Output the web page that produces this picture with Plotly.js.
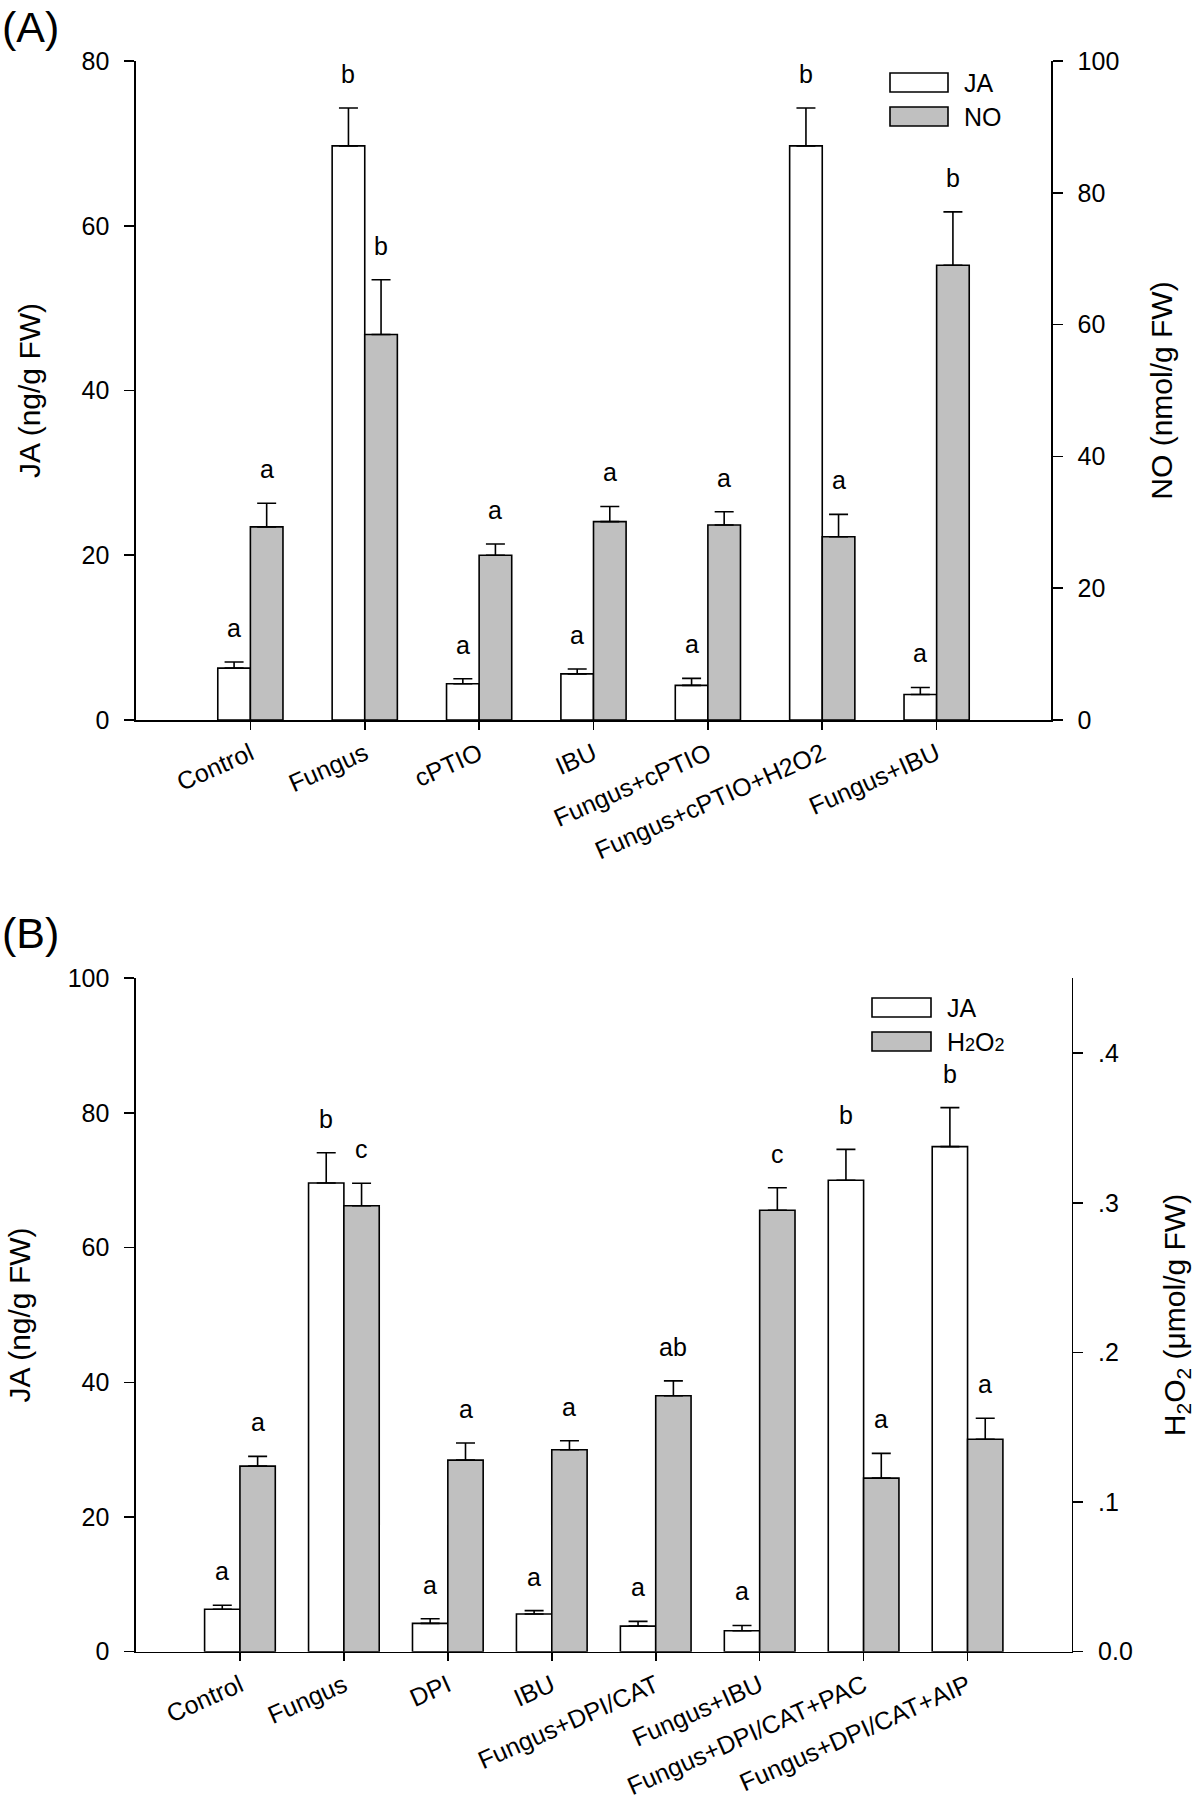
<!DOCTYPE html>
<html>
<head>
<meta charset="utf-8">
<script src="https://cdn.plot.ly/plotly-3.0.1.min.js"></script>
<style>html,body{margin:0;padding:0;background:#fff}</style>
</head>
<body>
<div id="chart" style="width:1200px;height:1804px"></div>
<script>
// ---------- Panel A data ----------
const catsA = ['Control', 'Fungus', 'cPTIO', 'IBU', 'Fungus+cPTIO', 'Fungus+cPTIO+H2O2', 'Fungus+IBU'];
const jaA = [6.3, 69.7, 4.4, 5.6, 4.2, 69.7, 3.1];
const jaErrA = [0.75, 4.6, 0.6, 0.6, 0.85, 4.6, 0.85];
const jaLetA = ['a', 'b', 'a', 'a', 'a', 'b', 'a'];
const noA = [29.3, 58.5, 25.0, 30.1, 29.6, 27.8, 69.0];
const noErrA = [3.6, 8.3, 1.7, 2.3, 2.0, 3.4, 8.1];
const noLetA = ['a', 'b', 'a', 'a', 'a', 'a', 'b'];

// ---------- Panel B data ----------
const catsB = ['Control', 'Fungus', 'DPI', 'IBU', 'Fungus+DPI/CAT', 'Fungus+IBU', 'Fungus+DPI/CAT+PAC', 'Fungus+DPI/CAT+AIP'];
const jaB = [6.3, 69.6, 4.2, 5.6, 3.8, 3.1, 70.0, 75.0];
const jaErrB = [0.6, 4.5, 0.7, 0.5, 0.7, 0.8, 4.6, 5.8];
const jaLetB = ['a', 'b', 'a', 'a', 'a', 'a', 'b', 'b'];
const h2o2B = [0.124, 0.298, 0.128, 0.135, 0.171, 0.295, 0.116, 0.142];
const h2o2ErrB = [0.0065, 0.015, 0.0115, 0.006, 0.010, 0.015, 0.0165, 0.014];
const h2o2LetB = ['a', 'c', 'a', 'a', 'ab', 'c', 'a', 'a'];

// tick labels
const ticksH2O2 = [0, 0.1, 0.2, 0.3, 0.4];
const tickTextH2O2 = ['0.0', '.1', '.2', '.3', '.4'];

// ---------- geometry / style ----------
const W = 1200, H = 1804;
const FONT = 'Liberation Sans, Arial, Helvetica, sans-serif';
const LW = 1.6;
const GREY = '#c0c0c0';
const px = v => v / W;
const py = v => 1 - v / H;

const xDomA = [px(136), px(1051)];
const yDomA = [py(720), py(61)];
const xDomB = [px(136), px(1071.5)];
const yDomB = [py(1651.7), py(978.3)];
const bwA = 0.285, bwB = 0.34;
const rangeA = [-1, catsA.length];
const rangeB = [-1, catsB.length];
const barPxA = bwA * (xDomA[1] - xDomA[0]) * W / (rangeA[1] - rangeA[0]);
const barPxB = bwB * (xDomB[1] - xDomB[0]) * W / (rangeB[1] - rangeB[0]);

function barTrace(x, y, err, color, w, off, xa, ya, name) {
  return {
    type: 'bar', name: name, x: x, y: y, xaxis: xa, yaxis: ya,
    width: w, offset: off, showlegend: false,
    marker: {color: color, line: {color: '#000', width: LW}},
    error_y: {type: 'data', array: err, arrayminus: err.map(() => 0), symmetric: false,
              color: '#000', thickness: LW, width: 9.5},
    hoverinfo: 'x+y'
  };
}

const data = [
  barTrace(catsA, jaA, jaErrA, '#ffffff', bwA, -bwA, 'x', 'y', 'JA'),
  barTrace(catsA, noA, noErrA, GREY, bwA, 0, 'x', 'y2', 'NO'),
  barTrace(catsB, jaB, jaErrB, '#ffffff', bwB, -bwB, 'x2', 'y3', 'JA'),
  barTrace(catsB, h2o2B, h2o2ErrB, GREY, bwB, 0, 'x2', 'y4', 'H2O2')
];

const tickFont = {family: FONT, size: 25, color: '#000'};
const titleFont = {family: FONT, size: 30, color: '#000'};

function xAxis(dom, anchor, cats, range) {
  return {
    domain: dom, anchor: anchor, type: 'category', categoryarray: cats, categoryorder: 'array',
    range: range, showline: true, linecolor: '#000', linewidth: LW,
    ticks: 'outside', ticklen: 8, tickwidth: LW, tickcolor: '#000',
    tickangle: -24, tickfont: tickFont, showgrid: false, zeroline: false, fixedrange: true
  };
}
function yAxis(extra) {
  return Object.assign({
    showline: true, linecolor: '#000', linewidth: LW,
    ticks: 'outside', ticklen: 10, tickwidth: LW, tickcolor: '#000',
    tickfont: tickFont, showgrid: false, zeroline: false, fixedrange: true,
    ticklabelstandoff: 10
  }, extra);
}

const annotations = [];
function letters(cats, vals, errs, lets, ya, shift) {
  cats.forEach((c, i) => {
    annotations.push({
      x: c, xref: ya === 'y' || ya === 'y2' ? 'x' : 'x2', y: vals[i] + errs[i], yref: ya,
      xshift: shift, yshift: 34, yanchor: 'middle', xanchor: 'center',
      text: lets[i], showarrow: false, font: {family: FONT, size: 25, color: '#000'}
    });
  });
}
letters(catsA, jaA, jaErrA, jaLetA, 'y', -barPxA / 2);
letters(catsA, noA, noErrA, noLetA, 'y2', barPxA / 2);
letters(catsB, jaB, jaErrB, jaLetB, 'y3', -barPxB / 2);
letters(catsB, h2o2B, h2o2ErrB, h2o2LetB, 'y4', barPxB / 2);

// panel labels
annotations.push({xref: 'paper', yref: 'paper', x: 0, y: py(27), xanchor: 'left', yanchor: 'middle',
  text: '(A)', showarrow: false, font: {family: FONT, size: 43, color: '#000'}});
annotations.push({xref: 'paper', yref: 'paper', x: 0, y: py(933), xanchor: 'left', yanchor: 'middle',
  text: '(B)', showarrow: false, font: {family: FONT, size: 43, color: '#000'}});

// legends (boxes + text)
const shapes = [];
function legendItem(x0, x1, y0, y1, fill, label) {
  shapes.push({type: 'rect', xref: 'paper', yref: 'paper', x0: px(x0), x1: px(x1), y0: py(y1), y1: py(y0),
    fillcolor: fill, line: {color: '#000', width: LW}});
  annotations.push({xref: 'paper', yref: 'paper', x: px(x1 + 14), y: py((y0 + y1) / 2), xanchor: 'left',
    yanchor: 'middle', text: label, showarrow: false, font: {family: FONT, size: 25, color: '#000'}});
}
legendItem(890, 948, 73, 92, '#ffffff', 'JA');
legendItem(890, 948, 107, 126, GREY, 'NO');
legendItem(872, 931, 998, 1017, '#ffffff', 'JA');
legendItem(872, 931, 1032, 1051, GREY, 'H<span style="font-size:18px">2</span>O<span style="font-size:18px">2</span>');

const layout = {
  width: W, height: H,
  margin: {l: 0, r: 0, t: 0, b: 0, pad: 0},
  paper_bgcolor: '#fff', plot_bgcolor: 'rgba(0,0,0,0)',
  showlegend: false,
  font: {family: FONT, color: '#000'},
  xaxis: xAxis(xDomA, 'y', catsA, rangeA),
  yaxis: yAxis({domain: yDomA, anchor: 'x', range: [0, 80], tick0: 0, dtick: 20,
    title: {text: 'JA (ng/g FW)', font: titleFont, standoff: 32}}),
  yaxis2: yAxis({overlaying: 'y', side: 'right', anchor: 'x', range: [0, 100], tick0: 0, dtick: 20,
    title: {text: 'NO (nmol/g FW)', font: titleFont, standoff: 32}}),
  xaxis2: xAxis(xDomB, 'y3', catsB, rangeB),
  yaxis3: yAxis({domain: yDomB, anchor: 'x2', range: [0, 100], tick0: 0, dtick: 20,
    title: {text: 'JA (ng/g FW)', font: titleFont, standoff: 28}}),
  yaxis4: yAxis({overlaying: 'y3', side: 'right', anchor: 'x2', range: [0, 0.45],
    tickmode: 'array', tickvals: ticksH2O2, ticktext: tickTextH2O2,
    title: {text: 'H<sub>2</sub>O<sub>2</sub> (μmol/g FW)', font: titleFont, standoff: 32}}),
  annotations: annotations,
  shapes: shapes
};

Plotly.newPlot('chart', data, layout, {displayModeBar: false, staticPlot: true});
</script>
</body>
</html>
